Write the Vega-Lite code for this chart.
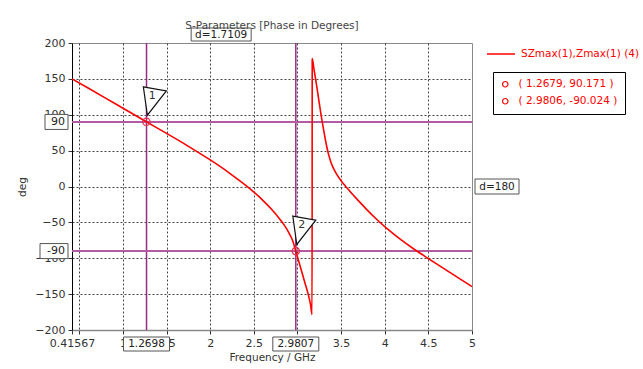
{
  "$schema": "https://vega.github.io/schema/vega-lite/v6.json",
  "width": 400,
  "height": 287,
  "autosize": {"type": "none"},
  "padding": {"left": 72, "top": 43, "right": 171, "bottom": 39},
  "background": "white",
  "title": {"text": "S-Parameters [Phase in Degrees]", "fontSize": 10.5, "fontWeight": "normal", "font": "DejaVu Sans", "color": "#444", "offset": -5, "anchor": "middle"},
  "config": {
    "font": "DejaVu Sans",
    "view": {"stroke": "#888", "strokeWidth": 1},
    "axis": {"labelFont": "DejaVu Sans", "labelFontSize": 11, "labelColor": "#333", "titleFont": "DejaVu Sans", "titleFontSize": 10.5, "titleFontWeight": "normal", "titleColor": "#333", "tickSize": 4, "tickColor": "#333", "gridColor": "#444", "gridDash": [2, 2], "gridWidth": 1}
  },
  "datasets": {
    "curve": [
      {"f": 0.41567, "deg": 150}, {"f": 0.6, "deg": 137.2}, {"f": 0.8, "deg": 123.2}, {"f": 1.0, "deg": 109.1},
      {"f": 1.2679, "deg": 90.2}, {"f": 1.5, "deg": 74}, {"f": 1.75, "deg": 56}, {"f": 2.0, "deg": 37},
      {"f": 2.2, "deg": 20.5}, {"f": 2.4, "deg": 2.1}, {"f": 2.5, "deg": -7.9}, {"f": 2.6, "deg": -18.9},
      {"f": 2.7, "deg": -31.4}, {"f": 2.8, "deg": -45.9}, {"f": 2.85, "deg": -54.2}, {"f": 2.9, "deg": -64.2},
      {"f": 2.95, "deg": -77.2}, {"f": 2.9806, "deg": -90}, {"f": 3.004, "deg": -100}, {"f": 3.04, "deg": -115},
      {"f": 3.08, "deg": -132}, {"f": 3.122, "deg": -150}, {"f": 3.15, "deg": -165}, {"f": 3.167, "deg": -178.5},
      {"f": 3.169, "deg": 178.5}, {"f": 3.19, "deg": 162.5}, {"f": 3.21, "deg": 148}, {"f": 3.24, "deg": 124},
      {"f": 3.27, "deg": 100}, {"f": 3.3, "deg": 78.5}, {"f": 3.32, "deg": 65}, {"f": 3.34, "deg": 53},
      {"f": 3.36, "deg": 43}, {"f": 3.38, "deg": 35}, {"f": 3.41, "deg": 26}, {"f": 3.45, "deg": 17},
      {"f": 3.5, "deg": 8}, {"f": 3.55, "deg": 0.5}, {"f": 3.6, "deg": -6.5}, {"f": 3.7, "deg": -20},
      {"f": 3.8, "deg": -33}, {"f": 3.9, "deg": -45}, {"f": 4.0, "deg": -56}, {"f": 4.1, "deg": -66},
      {"f": 4.2, "deg": -75.5}, {"f": 4.35, "deg": -88.5}, {"f": 4.5, "deg": -100.5}, {"f": 4.75, "deg": -120},
      {"f": 5.0, "deg": -139.5}
    ],
    "markers": [
      {"f": 1.2679, "deg": 90.171, "id": "1", "label": "( 1.2679, 90.171 )"},
      {"f": 2.9806, "deg": -90.024, "id": "2", "label": "( 2.9806, -90.024 )"}
    ],
    "vlines": [{"f": 1.2698, "text": "1.2698"}, {"f": 2.9807, "text": "2.9807"}],
    "hlines": [{"deg": 90, "text": "90"}, {"deg": -90, "text": "-90"}],
    "dx": [{"f": 2.12525, "deg": 200, "text": "d=1.7109"}],
    "dy": [{"f": 5, "deg": 0, "text": "d=180"}]
  },
  "layer": [
    {
      "data": {"name": "vlines"},
      "mark": {"type": "rule", "color": "#9b2a83", "strokeWidth": 1.5},
      "encoding": {
        "x": {"field": "f", "type": "quantitative", "scale": {"domain": [0.41567, 5], "nice": false, "zero": false},
          "axis": {"title": "Frequency / GHz", "values": [0.41567, 0.5, 1, 1.5, 2, 2.5, 3, 3.5, 4, 4.5, 5], "labelExpr": "datum.value == 0.5 ? '' : format(datum.value, '~g')", "labelFlush": false, "labelOverlap": false, "domainColor": "#888", "domainWidth": 1.5, "labelPadding": 3, "titlePadding": 4, "gridOpacity": {"condition": {"test": "datum.value < 0.45 || datum.value > 4.9", "value": 0}, "value": 1}}}
      }
    },
    {
      "data": {"name": "hlines"},
      "mark": {"type": "rule", "color": "#b35aa0", "strokeWidth": 2},
      "encoding": {
        "y": {"field": "deg", "type": "quantitative", "scale": {"domain": [-200, 200], "nice": false},
          "axis": {"title": "deg", "values": [-200, -150, -100, -50, 0, 50, 100, 150, 200], "domainColor": "#000", "labelPadding": 3, "titlePadding": 7, "gridOpacity": {"condition": {"test": "abs(datum.value) > 190", "value": 0}, "value": 1}}}
      }
    },
    {
      "data": {"name": "curve"},
      "mark": {"type": "line", "strokeWidth": 1.6, "interpolate": "monotone"},
      "encoding": {
        "x": {"field": "f", "type": "quantitative", "scale": {"domain": [0.41567, 5], "nice": false, "zero": false},
          "axis": {"title": "Frequency / GHz", "values": [0.41567, 0.5, 1, 1.5, 2, 2.5, 3, 3.5, 4, 4.5, 5], "labelExpr": "datum.value == 0.5 ? '' : format(datum.value, '~g')", "labelFlush": false, "labelOverlap": false, "domainColor": "#888", "domainWidth": 1.5, "labelPadding": 3, "titlePadding": 4, "gridOpacity": {"condition": {"test": "datum.value < 0.45 || datum.value > 4.9", "value": 0}, "value": 1}}},
        "y": {"field": "deg", "type": "quantitative", "scale": {"domain": [-200, 200], "nice": false},
          "axis": {"title": "deg", "values": [-200, -150, -100, -50, 0, 50, 100, 150, 200], "domainColor": "#000", "labelPadding": 3, "titlePadding": 7, "gridOpacity": {"condition": {"test": "abs(datum.value) > 190", "value": 0}, "value": 1}}},
        "color": {"datum": "SZmax(1),Zmax(1) (4)", "type": "nominal", "scale": {"range": ["#ff0000"]},
          "legend": {"orient": "none", "legendX": 414, "legendY": -4, "title": null, "symbolType": "stroke", "symbolSize": 784, "symbolStrokeWidth": 1.5, "labelColor": "#ff0000", "labelFontSize": 10.5, "labelFont": "DejaVu Sans", "labelOffset": 5, "padding": 0}}
      }
    },
    {
      "data": {"name": "markers"},
      "mark": {"type": "point", "filled": false, "color": "#e8304a", "strokeWidth": 1.2, "size": 55, "opacity": 1},
      "encoding": {
        "x": {"field": "f", "type": "quantitative", "scale": {"domain": [0.41567, 5], "nice": false, "zero": false},
          "axis": {"title": "Frequency / GHz", "values": [0.41567, 0.5, 1, 1.5, 2, 2.5, 3, 3.5, 4, 4.5, 5], "labelExpr": "datum.value == 0.5 ? '' : format(datum.value, '~g')", "labelFlush": false, "labelOverlap": false, "domainColor": "#888", "domainWidth": 1.5, "labelPadding": 3, "titlePadding": 4, "gridOpacity": {"condition": {"test": "datum.value < 0.45 || datum.value > 4.9", "value": 0}, "value": 1}}},
        "y": {"field": "deg", "type": "quantitative", "scale": {"domain": [-200, 200], "nice": false},
          "axis": {"title": "deg", "values": [-200, -150, -100, -50, 0, 50, 100, 150, 200], "domainColor": "#000", "labelPadding": 3, "titlePadding": 7, "gridOpacity": {"condition": {"test": "abs(datum.value) > 190", "value": 0}, "value": 1}}},
        "shape": {"field": "label", "type": "nominal", "scale": {"range": ["circle", "circle"]},
          "legend": {"orient": "none", "legendX": 421, "legendY": 29, "title": null, "strokeColor": "#000", "padding": 7, "symbolSize": 30, "symbolStrokeColor": "#ff0000", "symbolFillColor": "transparent", "symbolStrokeWidth": 1.2, "labelColor": "#ff0000", "labelFontSize": 10.5, "labelFont": "DejaVu Sans", "labelOffset": 8, "rowPadding": 6}}
      }
    },
    {
      "data": {"name": "markers"},
      "mark": {"type": "point", "shape": "M-0.3,-3.5L2.0,-3.1L0.1,-0.66Z", "size": 400, "filled": true, "fill": "white", "stroke": "#111", "strokeWidth": 1.2, "opacity": 1},
      "encoding": {
        "x": {"field": "f", "type": "quantitative", "scale": {"domain": [0.41567, 5], "nice": false, "zero": false},
          "axis": {"title": "Frequency / GHz", "values": [0.41567, 0.5, 1, 1.5, 2, 2.5, 3, 3.5, 4, 4.5, 5], "labelExpr": "datum.value == 0.5 ? '' : format(datum.value, '~g')", "labelFlush": false, "labelOverlap": false, "domainColor": "#888", "domainWidth": 1.5, "labelPadding": 3, "titlePadding": 4, "gridOpacity": {"condition": {"test": "datum.value < 0.45 || datum.value > 4.9", "value": 0}, "value": 1}}},
        "y": {"field": "deg", "type": "quantitative", "scale": {"domain": [-200, 200], "nice": false},
          "axis": {"title": "deg", "values": [-200, -150, -100, -50, 0, 50, 100, 150, 200], "domainColor": "#000", "labelPadding": 3, "titlePadding": 7, "gridOpacity": {"condition": {"test": "abs(datum.value) > 190", "value": 0}, "value": 1}}}
      }
    },
    {
      "data": {"name": "markers"},
      "mark": {"type": "text", "dx": 6, "dy": -26, "fontSize": 11, "color": "#333", "font": "DejaVu Sans"},
      "encoding": {
        "x": {"field": "f", "type": "quantitative", "scale": {"domain": [0.41567, 5], "nice": false, "zero": false},
          "axis": {"title": "Frequency / GHz", "values": [0.41567, 0.5, 1, 1.5, 2, 2.5, 3, 3.5, 4, 4.5, 5], "labelExpr": "datum.value == 0.5 ? '' : format(datum.value, '~g')", "labelFlush": false, "labelOverlap": false, "domainColor": "#888", "domainWidth": 1.5, "labelPadding": 3, "titlePadding": 4, "gridOpacity": {"condition": {"test": "datum.value < 0.45 || datum.value > 4.9", "value": 0}, "value": 1}}},
        "y": {"field": "deg", "type": "quantitative", "scale": {"domain": [-200, 200], "nice": false},
          "axis": {"title": "deg", "values": [-200, -150, -100, -50, 0, 50, 100, 150, 200], "domainColor": "#000", "labelPadding": 3, "titlePadding": 7, "gridOpacity": {"condition": {"test": "abs(datum.value) > 190", "value": 0}, "value": 1}}},
        "text": {"field": "id"}
      }
    },
    {
      "data": {"name": "vlines"},
      "mark": {"type": "point", "shape": "M-2.3,-0.7H2.3V0.7H-2.3Z", "size": 400, "filled": true, "fill": "white", "stroke": "#555", "strokeWidth": 1, "opacity": 1, "yOffset": 14},
      "encoding": {
        "x": {"field": "f", "type": "quantitative", "scale": {"domain": [0.41567, 5], "nice": false, "zero": false},
          "axis": {"title": "Frequency / GHz", "values": [0.41567, 0.5, 1, 1.5, 2, 2.5, 3, 3.5, 4, 4.5, 5], "labelExpr": "datum.value == 0.5 ? '' : format(datum.value, '~g')", "labelFlush": false, "labelOverlap": false, "domainColor": "#888", "domainWidth": 1.5, "labelPadding": 3, "titlePadding": 4, "gridOpacity": {"condition": {"test": "datum.value < 0.45 || datum.value > 4.9", "value": 0}, "value": 1}}},
        "y": {"datum": -200, "type": "quantitative", "scale": {"domain": [-200, 200], "nice": false},
          "axis": {"title": "deg", "values": [-200, -150, -100, -50, 0, 50, 100, 150, 200], "domainColor": "#000", "labelPadding": 3, "titlePadding": 7, "gridOpacity": {"condition": {"test": "abs(datum.value) > 190", "value": 0}, "value": 1}}}
      }
    },
    {
      "data": {"name": "vlines"},
      "mark": {"type": "text", "dy": 14, "fontSize": 10.5, "color": "#222", "font": "DejaVu Sans"},
      "encoding": {
        "x": {"field": "f", "type": "quantitative", "scale": {"domain": [0.41567, 5], "nice": false, "zero": false},
          "axis": {"title": "Frequency / GHz", "values": [0.41567, 0.5, 1, 1.5, 2, 2.5, 3, 3.5, 4, 4.5, 5], "labelExpr": "datum.value == 0.5 ? '' : format(datum.value, '~g')", "labelFlush": false, "labelOverlap": false, "domainColor": "#888", "domainWidth": 1.5, "labelPadding": 3, "titlePadding": 4, "gridOpacity": {"condition": {"test": "datum.value < 0.45 || datum.value > 4.9", "value": 0}, "value": 1}}},
        "y": {"datum": -200, "type": "quantitative", "scale": {"domain": [-200, 200], "nice": false},
          "axis": {"title": "deg", "values": [-200, -150, -100, -50, 0, 50, 100, 150, 200], "domainColor": "#000", "labelPadding": 3, "titlePadding": 7, "gridOpacity": {"condition": {"test": "abs(datum.value) > 190", "value": 0}, "value": 1}}},
        "text": {"field": "text"}
      }
    },
    {
      "data": {"name": "hlines"},
      "transform": [{"filter": "datum.deg > 0"}],
      "mark": {"type": "point", "shape": "M-2.7,-0.75H-0.4V0.75H-2.7Z", "size": 400, "filled": true, "fill": "white", "stroke": "#555", "strokeWidth": 1, "opacity": 1},
      "encoding": {
        "x": {"datum": 0.41567, "type": "quantitative", "scale": {"domain": [0.41567, 5], "nice": false, "zero": false},
          "axis": {"title": "Frequency / GHz", "values": [0.41567, 0.5, 1, 1.5, 2, 2.5, 3, 3.5, 4, 4.5, 5], "labelExpr": "datum.value == 0.5 ? '' : format(datum.value, '~g')", "labelFlush": false, "labelOverlap": false, "domainColor": "#888", "domainWidth": 1.5, "labelPadding": 3, "titlePadding": 4, "gridOpacity": {"condition": {"test": "datum.value < 0.45 || datum.value > 4.9", "value": 0}, "value": 1}}},
        "y": {"field": "deg", "type": "quantitative", "scale": {"domain": [-200, 200], "nice": false},
          "axis": {"title": "deg", "values": [-200, -150, -100, -50, 0, 50, 100, 150, 200], "domainColor": "#000", "labelPadding": 3, "titlePadding": 7, "gridOpacity": {"condition": {"test": "abs(datum.value) > 190", "value": 0}, "value": 1}}}
      }
    },
    {
      "data": {"name": "hlines"},
      "transform": [{"filter": "datum.deg < 0"}],
      "mark": {"type": "point", "shape": "M-3.2,-0.75H-0.4V0.75H-3.2Z", "size": 400, "filled": true, "fill": "white", "stroke": "#555", "strokeWidth": 1, "opacity": 1},
      "encoding": {
        "x": {"datum": 0.41567, "type": "quantitative", "scale": {"domain": [0.41567, 5], "nice": false, "zero": false},
          "axis": {"title": "Frequency / GHz", "values": [0.41567, 0.5, 1, 1.5, 2, 2.5, 3, 3.5, 4, 4.5, 5], "labelExpr": "datum.value == 0.5 ? '' : format(datum.value, '~g')", "labelFlush": false, "labelOverlap": false, "domainColor": "#888", "domainWidth": 1.5, "labelPadding": 3, "titlePadding": 4, "gridOpacity": {"condition": {"test": "datum.value < 0.45 || datum.value > 4.9", "value": 0}, "value": 1}}},
        "y": {"field": "deg", "type": "quantitative", "scale": {"domain": [-200, 200], "nice": false},
          "axis": {"title": "deg", "values": [-200, -150, -100, -50, 0, 50, 100, 150, 200], "domainColor": "#000", "labelPadding": 3, "titlePadding": 7, "gridOpacity": {"condition": {"test": "abs(datum.value) > 190", "value": 0}, "value": 1}}}
      }
    },
    {
      "data": {"name": "hlines"},
      "mark": {"type": "text", "align": "right", "dx": -7, "fontSize": 11, "color": "#222", "font": "DejaVu Sans"},
      "encoding": {
        "x": {"datum": 0.41567, "type": "quantitative", "scale": {"domain": [0.41567, 5], "nice": false, "zero": false},
          "axis": {"title": "Frequency / GHz", "values": [0.41567, 0.5, 1, 1.5, 2, 2.5, 3, 3.5, 4, 4.5, 5], "labelExpr": "datum.value == 0.5 ? '' : format(datum.value, '~g')", "labelFlush": false, "labelOverlap": false, "domainColor": "#888", "domainWidth": 1.5, "labelPadding": 3, "titlePadding": 4, "gridOpacity": {"condition": {"test": "datum.value < 0.45 || datum.value > 4.9", "value": 0}, "value": 1}}},
        "y": {"field": "deg", "type": "quantitative", "scale": {"domain": [-200, 200], "nice": false},
          "axis": {"title": "deg", "values": [-200, -150, -100, -50, 0, 50, 100, 150, 200], "domainColor": "#000", "labelPadding": 3, "titlePadding": 7, "gridOpacity": {"condition": {"test": "abs(datum.value) > 190", "value": 0}, "value": 1}}},
        "text": {"field": "text"}
      }
    },
    {
      "data": {"name": "dx"},
      "mark": {"type": "point", "shape": "M-3,-0.65H3V0.65H-3Z", "size": 400, "filled": true, "fill": "white", "stroke": "#555", "strokeWidth": 1, "opacity": 1, "yOffset": -8.5},
      "encoding": {
        "x": {"field": "f", "type": "quantitative", "scale": {"domain": [0.41567, 5], "nice": false, "zero": false},
          "axis": {"title": "Frequency / GHz", "values": [0.41567, 0.5, 1, 1.5, 2, 2.5, 3, 3.5, 4, 4.5, 5], "labelExpr": "datum.value == 0.5 ? '' : format(datum.value, '~g')", "labelFlush": false, "labelOverlap": false, "domainColor": "#888", "domainWidth": 1.5, "labelPadding": 3, "titlePadding": 4, "gridOpacity": {"condition": {"test": "datum.value < 0.45 || datum.value > 4.9", "value": 0}, "value": 1}}},
        "y": {"field": "deg", "type": "quantitative", "scale": {"domain": [-200, 200], "nice": false},
          "axis": {"title": "deg", "values": [-200, -150, -100, -50, 0, 50, 100, 150, 200], "domainColor": "#000", "labelPadding": 3, "titlePadding": 7, "gridOpacity": {"condition": {"test": "abs(datum.value) > 190", "value": 0}, "value": 1}}}
      }
    },
    {
      "data": {"name": "dx"},
      "mark": {"type": "text", "dy": -8.5, "fontSize": 10.5, "color": "#222", "font": "DejaVu Sans"},
      "encoding": {
        "x": {"field": "f", "type": "quantitative", "scale": {"domain": [0.41567, 5], "nice": false, "zero": false},
          "axis": {"title": "Frequency / GHz", "values": [0.41567, 0.5, 1, 1.5, 2, 2.5, 3, 3.5, 4, 4.5, 5], "labelExpr": "datum.value == 0.5 ? '' : format(datum.value, '~g')", "labelFlush": false, "labelOverlap": false, "domainColor": "#888", "domainWidth": 1.5, "labelPadding": 3, "titlePadding": 4, "gridOpacity": {"condition": {"test": "datum.value < 0.45 || datum.value > 4.9", "value": 0}, "value": 1}}},
        "y": {"field": "deg", "type": "quantitative", "scale": {"domain": [-200, 200], "nice": false},
          "axis": {"title": "deg", "values": [-200, -150, -100, -50, 0, 50, 100, 150, 200], "domainColor": "#000", "labelPadding": 3, "titlePadding": 7, "gridOpacity": {"condition": {"test": "abs(datum.value) > 190", "value": 0}, "value": 1}}},
        "text": {"field": "text"}
      }
    },
    {
      "data": {"name": "dy"},
      "mark": {"type": "point", "shape": "M0.3,-0.75H4.7V0.75H0.3Z", "size": 400, "filled": true, "fill": "white", "stroke": "#555", "strokeWidth": 1, "opacity": 1},
      "encoding": {
        "x": {"field": "f", "type": "quantitative", "scale": {"domain": [0.41567, 5], "nice": false, "zero": false},
          "axis": {"title": "Frequency / GHz", "values": [0.41567, 0.5, 1, 1.5, 2, 2.5, 3, 3.5, 4, 4.5, 5], "labelExpr": "datum.value == 0.5 ? '' : format(datum.value, '~g')", "labelFlush": false, "labelOverlap": false, "domainColor": "#888", "domainWidth": 1.5, "labelPadding": 3, "titlePadding": 4, "gridOpacity": {"condition": {"test": "datum.value < 0.45 || datum.value > 4.9", "value": 0}, "value": 1}}},
        "y": {"field": "deg", "type": "quantitative", "scale": {"domain": [-200, 200], "nice": false},
          "axis": {"title": "deg", "values": [-200, -150, -100, -50, 0, 50, 100, 150, 200], "domainColor": "#000", "labelPadding": 3, "titlePadding": 7, "gridOpacity": {"condition": {"test": "abs(datum.value) > 190", "value": 0}, "value": 1}}}
      }
    },
    {
      "data": {"name": "dy"},
      "mark": {"type": "text", "dx": 25, "fontSize": 10.5, "color": "#222", "font": "DejaVu Sans"},
      "encoding": {
        "x": {"field": "f", "type": "quantitative", "scale": {"domain": [0.41567, 5], "nice": false, "zero": false},
          "axis": {"title": "Frequency / GHz", "values": [0.41567, 0.5, 1, 1.5, 2, 2.5, 3, 3.5, 4, 4.5, 5], "labelExpr": "datum.value == 0.5 ? '' : format(datum.value, '~g')", "labelFlush": false, "labelOverlap": false, "domainColor": "#888", "domainWidth": 1.5, "labelPadding": 3, "titlePadding": 4, "gridOpacity": {"condition": {"test": "datum.value < 0.45 || datum.value > 4.9", "value": 0}, "value": 1}}},
        "y": {"field": "deg", "type": "quantitative", "scale": {"domain": [-200, 200], "nice": false},
          "axis": {"title": "deg", "values": [-200, -150, -100, -50, 0, 50, 100, 150, 200], "domainColor": "#000", "labelPadding": 3, "titlePadding": 7, "gridOpacity": {"condition": {"test": "abs(datum.value) > 190", "value": 0}, "value": 1}}},
        "text": {"field": "text"}
      }
    }
  ]
}
